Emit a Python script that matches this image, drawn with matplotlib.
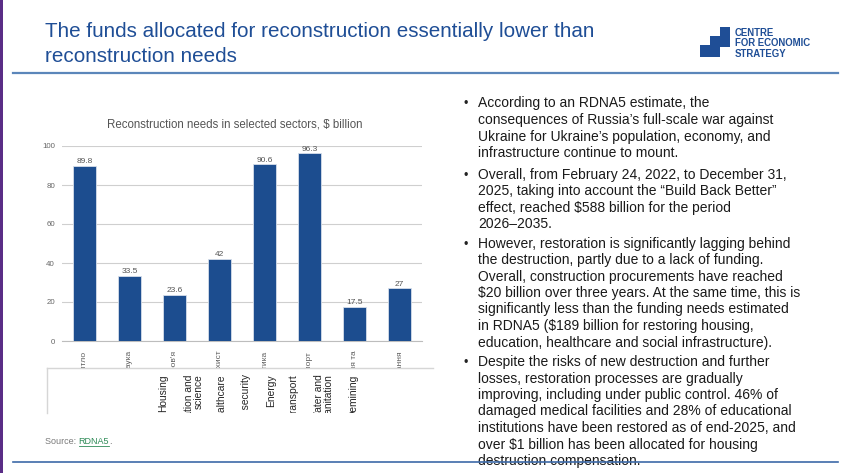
import matplotlib
matplotlib.use("Agg")
import matplotlib.pyplot as plt
import numpy as np
from matplotlib.patches import Rectangle, Polygon
from matplotlib.lines import Line2D

plt.rcParams['font.family'] = ['Liberation Sans', 'DejaVu Sans']
plt.rcParams['text.parse_math'] = False

# data
sectors_ua = ["Житло", "Освіта і наука", "Охорона здоров'я", "Соціальний захист",
              "Енергетика", "Транспорт", "Водопостачання та", "Розмінування"]
sectors_en = ["Housing", "Education and\nscience", "Healthcare", "Social security",
              "Energy", "Transport", "Water and\nsanitation", "Demining"]
needs_bn = [89.8, 33.5, 23.6, 42, 90.6, 96.3, 17.5, 27]

title = "The funds allocated for reconstruction essentially lower than\nreconstruction needs"
chart_title = "Reconstruction needs in selected sectors, $ billion"

bullets = [
    ["According to an RDNA5 estimate, the",
     "consequences of Russia’s full-scale war against",
     "Ukraine for Ukraine’s population, economy, and",
     "infrastructure continue to mount."],
    ["Overall, from February 24, 2022, to December 31,",
     "2025, taking into account the “Build Back Better”",
     "effect, reached $588 billion for the period",
     "2026–2035."],
    ["However, restoration is significantly lagging behind",
     "the destruction, partly due to a lack of funding.",
     "Overall, construction procurements have reached",
     "$20 billion over three years. At the same time, this is",
     "significantly less than the funding needs estimated",
     "in RDNA5 ($189 billion for restoring housing,",
     "education, healthcare and social infrastructure)."],
    ["Despite the risks of new destruction and further",
     "losses, restoration processes are gradually",
     "improving, including under public control. 46% of",
     "damaged medical facilities and 28% of educational",
     "institutions have been restored as of end-2025, and",
     "over $1 billion has been allocated for housing",
     "destruction compensation."],
]

W, H = 850, 473
BLUE = "#1f4e96"


def fx(x):
    return x / W


def fy(y):
    return 1 - y / H


def box(x0, y0, x1, y1):
    # pixel box (top-left origin) -> [left, bottom, width, height]
    return [fx(x0), fy(y1), (x1 - x0) / W, (y1 - y0) / H]


fig = plt.figure(figsize=(8.5, 4.73), dpi=100)
fig.patch.set_facecolor("white")

# left purple strip (screen edge)
fig.patches.append(Rectangle((0, 0), fx(2.5), 1, transform=fig.transFigure,
                             facecolor="#5a2d86", edgecolor="none"))

# title
tlines = title.split("\n")
fig.text(fx(45), fy(37), tlines[0], fontsize=14.9, color=BLUE, va="baseline")
fig.text(fx(45), fy(62), tlines[1], fontsize=14.9, color=BLUE, va="baseline")

# logo
logo = [(700, 56.7), (700, 45), (709.5, 45), (709.5, 36), (719.5, 36),
        (719.5, 27.3), (730, 27.3), (730, 46.7), (720, 46.7), (720, 56.7)]
fig.patches.append(Polygon([(fx(a), fy(b)) for a, b in logo], closed=True,
                           transform=fig.transFigure, facecolor=BLUE,
                           edgecolor="none"))
for i, t in enumerate(["CENTRE", "FOR ECONOMIC", "STRATEGY"]):
    fig.text(fx(735), fy(32.5 + 10.8 * i), t, fontsize=6.9, color=BLUE,
             fontweight="bold", va="center")

# separator lines
fig.lines.append(Line2D([fx(13), fx(838)], [fy(73), fy(73)], transform=fig.transFigure,
                        color="#5b86ba", lw=1.6))
fig.lines.append(Line2D([fx(13), fx(838)], [fy(462), fy(462)], transform=fig.transFigure,
                        color="#3d6aa8", lw=1.2, zorder=10))

# bar chart
ax = fig.add_axes(box(62, 146, 422, 341))
x = np.arange(len(needs_bn))
bars = ax.bar(x, needs_bn, width=0.49, color="#1c4d8f", edgecolor="#d5deea",
              linewidth=0.6, zorder=3)
ax.bar_label(bars, labels=[f"{v:g}" for v in needs_bn], padding=0.5,
             fontsize=6, color="#555555")
ax.set_xlim(-0.5, len(needs_bn) - 0.5)
ax.set_ylim(0, 100)
ax.set_yticks(range(0, 101, 20))
ax.yaxis.grid(True, color="#cfcfcf", lw=0.8, zorder=0)
ax.set_axisbelow(True)
for s in ["top", "right", "left"]:
    ax.spines[s].set_visible(False)
ax.spines["bottom"].set_color("#bdbdbd")
ax.tick_params(axis="y", length=0, pad=5, labelsize=5.7, labelcolor="#666666")
ax.set_xticks(x)
ax.set_xticklabels(sectors_ua, rotation=90, va="top", ha="center")
ax.tick_params(axis="x", length=0, pad=7, labelsize=6, labelcolor="#5e5e5e")
fig.text(fx(235), fy(124), chart_title, fontsize=8.3, color="#555555",
         ha="center", va="center")

# overlay box with English labels (cut off at its bottom edge)
ax2 = fig.add_axes(box(47, 368, 433, 413))
ax2.set_zorder(5)
ax2.set_facecolor("white")
ax2.set_xticks([])
ax2.set_yticks([])
for s in ["right", "bottom"]:
    ax2.spines[s].set_visible(False)
for s in ["top", "left"]:
    ax2.spines[s].set_color("#d6d6d6")
    ax2.spines[s].set_linewidth(1)
en_x = [163, 194, 221, 246, 271, 294, 324, 353]
for xp, lab in zip(en_x, sectors_en):
    fig.text(fx(xp), fy(374.5), lab, rotation=90, ha="center", va="top",
             multialignment="right", fontsize=7.4, color="#262626",
             linespacing=1.05, zorder=6)
fig.patches.append(Rectangle((fx(120), fy(458)), (434 - 120) / W, 45 / H,
                             transform=fig.transFigure, facecolor="white",
                             edgecolor="none", zorder=7))

# source
src = fig.text(fx(45), fy(441), "Source: ", fontsize=6.5, color="#7a7a7a", va="center")
fig.canvas.draw()
r = fig.canvas.get_renderer()
bb = src.get_window_extent(r)
link = fig.text(bb.x1 / W, fy(441), "RDNA5", fontsize=6.5, color="#2e8b57", va="center")
bb2 = link.get_window_extent(r)
fig.text(bb2.x1 / W, fy(441), ".", fontsize=6.5, color="#7a7a7a", va="center")
fig.lines.append(Line2D([bb2.x0 / W, bb2.x1 / W], [fy(446), fy(446)],
                        transform=fig.transFigure, color="#2e8b57", lw=0.6))

# bullet text
starts = [107.5, 178.8, 247.5, 366]
step = 16.5
for para, y0 in zip(bullets, starts):
    fig.text(fx(463), fy(y0), "•", fontsize=9, color="#222222", va="baseline")
    for i, line in enumerate(para):
        fig.text(fx(478), fy(y0 + i * step), line, fontsize=10, color="#1a1a1a",
                 va="baseline")

fig.savefig("out.png", dpi=100)
